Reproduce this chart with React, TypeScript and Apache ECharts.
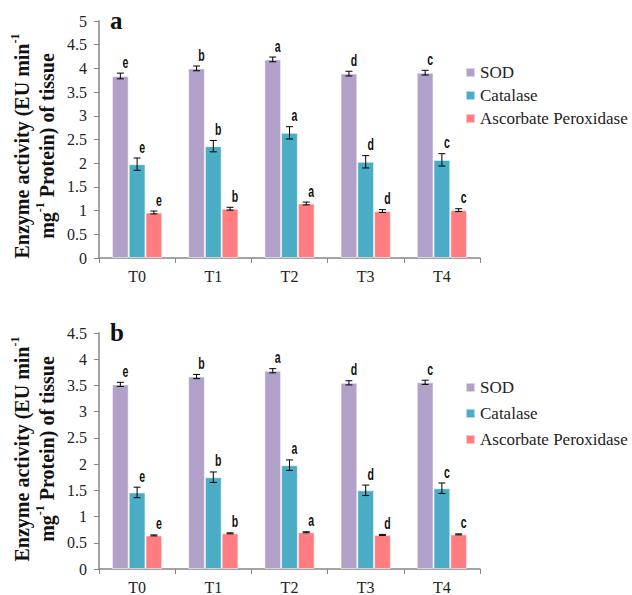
import React, { useEffect, useRef } from "react";
import * as echarts from "echarts";

const categories = ["T0", "T1", "T2", "T3", "T4"];
const seriesNames = ["SOD", "Catalase", "Ascorbate Peroxidase"];
const letters = ["e", "b", "a", "d", "c"];

// Panel a
const sodA = [3.84, 4.0, 4.19, 3.89, 3.91];
const sodAErr = [0.06, 0.05, 0.05, 0.05, 0.05];
const catA = [1.98, 2.36, 2.64, 2.03, 2.07];
const catAErr = [0.13, 0.12, 0.13, 0.13, 0.13];
const apxA = [0.96, 1.04, 1.15, 0.99, 1.01];
const apxAErr = [0.03, 0.03, 0.03, 0.03, 0.03];

// Panel b
const sodB = [3.52, 3.67, 3.78, 3.55, 3.56];
const sodBErr = [0.04, 0.04, 0.04, 0.04, 0.04];
const catB = [1.46, 1.75, 1.98, 1.5, 1.54];
const catBErr = [0.1, 0.1, 0.1, 0.1, 0.1];
const apxB = [0.64, 0.68, 0.7, 0.65, 0.66];
const apxBErr = [0.01, 0.01, 0.01, 0.01, 0.01];

const colors = ["#B1A1C8", "#4BACC6", "#FF7C80"];
const GAP = 0.34;
const SERIF = "Liberation Serif";
const SANS = "Liberation Sans";
const AXIS_COLOR = "#868686";

function barSeries(name: string, data: number[], idx: number, axis: number) {
  return {
    name,
    type: "bar",
    xAxisIndex: axis,
    yAxisIndex: axis,
    data,
    barGap: "0%",
    barCategoryGap: GAP * 100 + "%",
    itemStyle: { color: colors[idx], borderColor: "rgba(255,255,255,0.55)", borderWidth: 1 },
  };
}

function overlaySeries(values: number[], errs: number[], pos: number, axis: number) {
  return {
    type: "custom",
    xAxisIndex: axis,
    yAxisIndex: axis,
    z: 10,
    data: values.map((v, i) => [i, v, errs[i]]),
    renderItem: (params: any, api: any) => {
      const i = api.value(0);
      const v = api.value(1);
      const e = api.value(2);
      const c = api.coord([i, v]);
      const catW = api.size([1, 0])[0];
      const bw = (catW * (1 - GAP)) / 3;
      const x = c[0] + (pos - 1) * bw;
      const yTop = api.coord([i, v + e])[1];
      const yBot = api.coord([i, v - e])[1];
      const st = { stroke: "#000", lineWidth: 1 };
      return {
        type: "group",
        children: [
          { type: "line", shape: { x1: x, y1: yTop, x2: x, y2: yBot }, style: st },
          { type: "line", shape: { x1: x - 3.5, y1: yTop, x2: x + 3.5, y2: yTop }, style: st },
          { type: "line", shape: { x1: x - 3.5, y1: yBot, x2: x + 3.5, y2: yBot }, style: st },
          {
            type: "text",
            x: x + 5,
            y: yTop - 3,
            scaleX: 0.62,
            style: {
              text: letters[params.dataIndex],
              fill: "#111",
              fontFamily: SANS,
              fontWeight: "bold",
              fontSize: 17,
              align: "center",
              verticalAlign: "bottom",
            },
          },
        ],
      };
    },
  };
}

function xAxis(gridIndex: number) {
  return {
    type: "category",
    gridIndex,
    data: categories,
    axisLine: { lineStyle: { color: AXIS_COLOR, width: 1.5 } },
    axisTick: { show: true, alignWithLabel: false, length: 5, lineStyle: { color: AXIS_COLOR } },
    axisLabel: { color: "#222", fontFamily: SERIF, fontSize: 16, margin: 10 },
  };
}

function yAxis(gridIndex: number, max: number) {
  return {
    type: "value",
    gridIndex,
    min: 0,
    max,
    interval: 0.5,
    axisLine: { show: true, lineStyle: { color: AXIS_COLOR, width: 1.5 } },
    axisTick: { show: true, length: 5, lineStyle: { color: AXIS_COLOR } },
    splitLine: { show: false },
    axisLabel: { color: "#222", fontFamily: SERIF, fontSize: 16, margin: 12 },
  };
}

function legend(top: number, gap: number) {
  return {
    orient: "vertical",
    left: 465,
    top,
    padding: 0,
    data: seriesNames,
    icon: "rect",
    itemWidth: 9,
    itemHeight: 9,
    itemGap: gap,
    selectedMode: false,
    textStyle: { fontFamily: SERIF, fontSize: 17, color: "#222", lineHeight: 16 },
  };
}

function yTitle(cx: number, cy: number) {
  return {
    type: "text",
    x: cx,
    y: cy,
    rotation: Math.PI / 2,
    style: {
      text: "{b|Enzyme activity (EU min}{s|-1}\n{b|mg}{s|-1}{b| Protein) of tissue}",
      align: "center",
      verticalAlign: "middle",
      rich: {
        b: { fontFamily: SERIF, fontWeight: "bold", fontSize: 20, lineHeight: 25, fill: "#111" },
        s: { fontFamily: SERIF, fontWeight: "bold", fontSize: 12, verticalAlign: "top", fill: "#111" },
      },
    },
  };
}

export default function App() {
  const ref = useRef<HTMLDivElement>(null);
  useEffect(() => {
    if (!ref.current) return;
    const chart = echarts.init(ref.current, null, { renderer: "svg" });
    chart.setOption({
      animation: false,
      backgroundColor: "#fff",
      grid: [
        { left: 99, top: 21, width: 381, height: 237, containLabel: false },
        { left: 99, top: 333, width: 381, height: 238, containLabel: false },
      ],
      xAxis: [xAxis(0), xAxis(1)],
      yAxis: [yAxis(0, 5), yAxis(1, 4.5)],
      legend: [legend(64, 6), legend(379, 9)],
      graphic: [
        yTitle(34, 146),
        yTitle(34, 449),
        {
          type: "text",
          x: 110,
          y: 8,
          style: { text: "a", fontFamily: SERIF, fontWeight: "bold", fontSize: 25, fill: "#111" },
        },
        {
          type: "text",
          x: 110,
          y: 320,
          style: { text: "b", fontFamily: SERIF, fontWeight: "bold", fontSize: 25, fill: "#111" },
        },
      ],
      series: [
        barSeries(seriesNames[0], sodA, 0, 0),
        barSeries(seriesNames[1], catA, 1, 0),
        barSeries(seriesNames[2], apxA, 2, 0),
        barSeries(seriesNames[0], sodB, 0, 1),
        barSeries(seriesNames[1], catB, 1, 1),
        barSeries(seriesNames[2], apxB, 2, 1),
        overlaySeries(sodA, sodAErr, 0, 0),
        overlaySeries(catA, catAErr, 1, 0),
        overlaySeries(apxA, apxAErr, 2, 0),
        overlaySeries(sodB, sodBErr, 0, 1),
        overlaySeries(catB, catBErr, 1, 1),
        overlaySeries(apxB, apxBErr, 2, 1),
      ],
    });
    return () => chart.dispose();
  }, []);
  return <div ref={ref} style={{ position: "absolute", left: 0, top: 0, width: 632, height: 595 }} />;
}
